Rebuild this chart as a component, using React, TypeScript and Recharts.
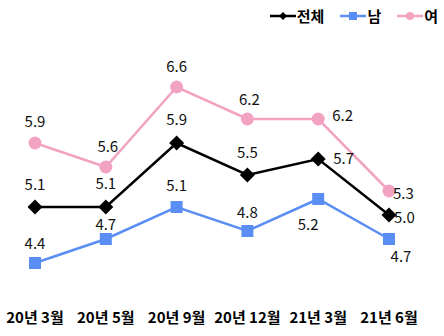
import React from "react";
import { LineChart, Line, XAxis, YAxis, LabelList } from "recharts";

const categories = ["20년 3월", "20년 5월", "20년 9월", "20년 12월", "21년 3월", "21년 6월"];
const totalValues = [5.1, 5.1, 5.9, 5.5, 5.7, 5.0];
const maleValues = [4.4, 4.7, 5.1, 4.8, 5.2, 4.7];
const femaleValues = [5.9, 5.6, 6.6, 6.2, 6.2, 5.3];

const data = categories.map((name, i) => ({
  name,
  total: totalValues[i],
  male: maleValues[i],
  female: femaleValues[i],
}));

const FONT = "'Noto Sans CJK KR', 'Noto Sans', sans-serif";
const BLACK = "#000000";
const BLUE = "#5B8EF5";
const PINK = "#F2A3C2";

// label offsets from each point: [dx, dy, anchor]
type Off = [number, number, "middle" | "start"];
const totalLabelOff: Off[] = [
  [0, -24, "middle"], [0, -25, "middle"], [0, -25, "middle"],
  [0, -24, "middle"], [15, -2, "start"], [5, 1, "start"],
];
const maleLabelOff: Off[] = [
  [0, -21, "middle"], [0, -16, "middle"], [0, -23, "middle"],
  [0, -20, "middle"], [-10, 24, "middle"], [12, 16, "middle"],
];
const femaleLabelOff: Off[] = [
  [0, -23, "middle"], [2, -22, "middle"], [0, -22, "middle"],
  [2, -21, "middle"], [14, -5, "start"], [4, 1, "start"],
];

const makeLabel = (offs: Off[]) => (props: any) => {
  const { x, y, value, index } = props;
  const [dx, dy, anchor] = offs[index];
  return (
    <text
      x={x + dx}
      y={y + dy}
      textAnchor={anchor}
      dominantBaseline="central"
      fontSize={15}
      fontFamily={FONT}
      fill="#111"
    >
      {Number(value).toFixed(1)}
    </text>
  );
};

const Diamond = (props: any) => {
  const { cx, cy } = props;
  const r = 7.5;
  return (
    <path
      d={`M${cx},${cy - r}L${cx + r},${cy}L${cx},${cy + r}L${cx - r},${cy}Z`}
      fill={BLACK}
    />
  );
};

const Square = (props: any) => {
  const { cx, cy } = props;
  return <rect x={cx - 6} y={cy - 6} width={12} height={12} fill={BLUE} />;
};

const Circle = (props: any) => {
  const { cx, cy } = props;
  return <circle cx={cx} cy={cy} r={6.5} fill={PINK} />;
};

const legendItems = [
  { label: "전체", color: BLACK, shape: "diamond" },
  { label: "남", color: BLUE, shape: "square" },
  { label: "여", color: PINK, shape: "circle" },
];

const LegendBox = () => (
  <div
    style={{
      position: "absolute",
      top: 6,
      right: 6,
      display: "flex",
      gap: 16,
      fontFamily: FONT,
      lineHeight: "20px",
    }}
  >
    {legendItems.map((it) => (
      <div key={it.label} style={{ display: "flex", alignItems: "center" }}>
        <svg width={26} height={12}>
          <line x1={0} y1={6} x2={26} y2={6} stroke={it.color} strokeWidth={2.5} />
          {it.shape === "diamond" && <path d="M13,2L17,6L13,10L9,6Z" fill={it.color} />}
          {it.shape === "square" && <rect x={9} y={2} width={8} height={8} fill={it.color} />}
          {it.shape === "circle" && <circle cx={13} cy={6} r={4} fill={it.color} />}
        </svg>
        <span style={{ fontSize: 15, fontWeight: 700, marginLeft: 1, color: "#000" }}>{it.label}</span>
      </div>
    ))}
  </div>
);

export default function App() {
  return (
    <div style={{ position: "absolute", left: 0, top: 0, width: 444, height: 336, background: "#fff" }}>
      <LineChart
        width={444}
        height={336}
        data={data}
        margin={{ top: 55, right: 55, bottom: 11, left: 35 }}
      >
        <XAxis
          dataKey="name"
          axisLine={false}
          tickLine={false}
          tickMargin={11}
          height={30}
          interval={0}
          tick={{ fontSize: 15, fontWeight: 700, fill: "#000", fontFamily: FONT }}
        />
        <YAxis hide domain={[4, 7]} />
        <Line
          dataKey="female"
          stroke={PINK}
          strokeWidth={2.5}
          dot={<Circle />}
          activeDot={false}
          isAnimationActive={false}
        >
          <LabelList dataKey="female" content={makeLabel(femaleLabelOff)} />
        </Line>
        <Line
          dataKey="total"
          stroke={BLACK}
          strokeWidth={2.5}
          dot={<Diamond />}
          activeDot={false}
          isAnimationActive={false}
        >
          <LabelList dataKey="total" content={makeLabel(totalLabelOff)} />
        </Line>
        <Line
          dataKey="male"
          stroke={BLUE}
          strokeWidth={2.5}
          dot={<Square />}
          activeDot={false}
          isAnimationActive={false}
        >
          <LabelList dataKey="male" content={makeLabel(maleLabelOff)} />
        </Line>
      </LineChart>
      <LegendBox />
    </div>
  );
}
